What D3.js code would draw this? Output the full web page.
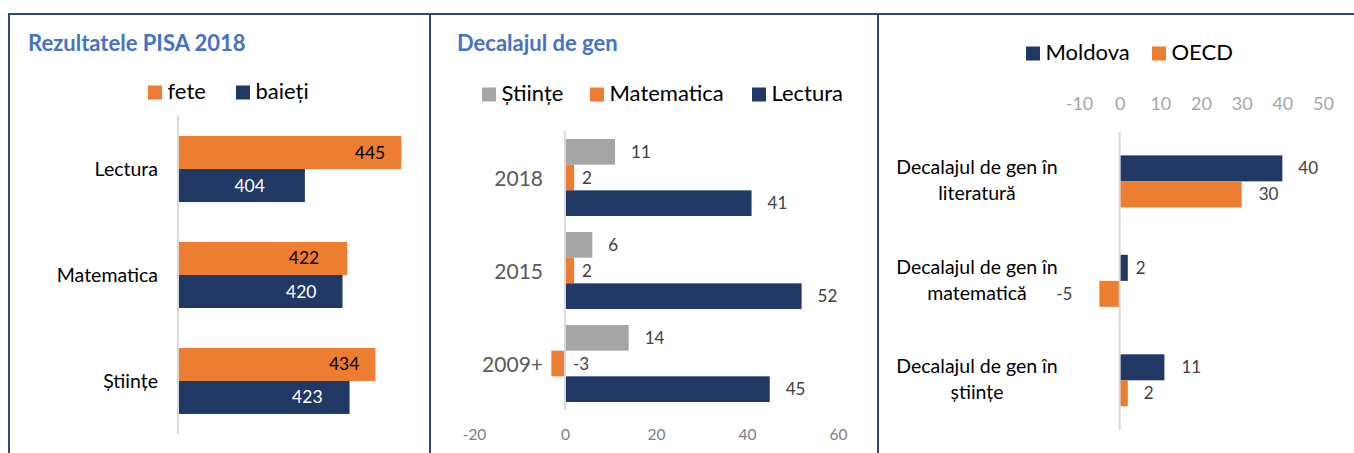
<!DOCTYPE html>
<html>
<head>
<meta charset="utf-8">
<script src="https://cdn.jsdelivr.net/npm/d3@7"></script>
<style>
  body { margin: 0; background: #fff; }
  svg { display: block; font-family: Lato, "Open Sans", sans-serif; }
</style>
</head>
<body>
<svg width="1354" height="453"></svg>
<script>
// panel 1 - PISA 2018 scores
const subjects = ["Lectura", "Matematica", "Științe"];
const sexes = ["fete", "baieți"];
const girls = [445, 422, 434];
const boys = [404, 420, 423];

// panel 2 - gender gap by year
const years = ["2018", "2015", "2009+"];
const gapSeries = ["Științe", "Matematica", "Lectura"];
const gapStiinte = [11, 6, 14];
const gapMatematica = [2, 2, -3];
const gapLectura = [41, 52, 45];
const gapTicks = [-20, 0, 20, 40, 60];

// panel 3 - Moldova vs OECD
const gapTopics = [
  ["Decalajul de gen în", "literatură"],
  ["Decalajul de gen în", "matematică"],
  ["Decalajul de gen în", "științe"],
];
const regions = ["Moldova", "OECD"];
const moldova = [40, 2, 11];
const oecd = [30, -5, 2];
const regionTicks = [-10, 0, 10, 20, 30, 40, 50];

const NAVY = "#203864", ORANGE = "#ed7d31", GREY = "#a5a5a5";
const AXIS = "#d9d9d9", TITLE = "#4472c4", BORDER = "#2e4a7d";

const svg = d3.select("svg");

// frame lines
svg.append("path")
  .attr("d", "M8,14H1354M9,14V453M430,14V453M878,14V453")
  .attr("fill", "none")
  .attr("stroke", BORDER)
  .attr("stroke-width", 2);

function legend(items, xs, y) {
  items.forEach((d, i) => {
    svg.append("rect").attr("x", xs[i]).attr("y", y - 13.5).attr("width", 14).attr("height", 14).attr("fill", d.color);
    svg.append("text").attr("x", xs[i] + 19.5).attr("y", y)
      .attr("font-size", 22).attr("fill", "#000").text(d.name);
  });
}

function title(x, txt) {
  svg.append("text").attr("x", x).attr("y", 51).attr("font-size", 22).attr("font-weight", "bold")
    .attr("fill", TITLE).text(txt);
}

// ---------------- panel 1 ----------------
title(28, "Rezultatele PISA 2018");
legend([{ name: sexes[0], color: ORANGE }, { name: sexes[1], color: NAVY }], [148, 236], 99);

const x1 = d3.scaleLinear().domain([350, 450]).range([178, 413]);
const y1 = d3.scaleBand().domain(subjects).range([116, 434]).paddingInner(0.377).paddingOuter(0.189);
const s1 = d3.scaleBand().domain(sexes).range([0, y1.bandwidth()]);
const p1 = subjects.map((s, i) => ({ cat: s, vals: [girls[i], boys[i]] }));
const nudge1 = [[16, 40], [28, 26], [16, 27]];

p1.forEach((row, i) => {
  row.vals.forEach((v, j) => {
    const y = y1(row.cat) + s1(sexes[j]);
    svg.append("rect").attr("x", x1(350)).attr("y", y)
      .attr("width", x1(v) - x1(350)).attr("height", s1.bandwidth())
      .attr("fill", j === 0 ? ORANGE : NAVY);
    svg.append("text").attr("x", x1(v) - nudge1[i][j]).attr("y", y + s1.bandwidth() / 2 + 6)
      .attr("text-anchor", "end").attr("font-size", 17.5)
      .attr("fill", j === 0 ? "#000" : "#fff").text(v);
  });
  svg.append("text").attr("x", 158).attr("y", y1(row.cat) + y1.bandwidth() / 2 + 7)
    .attr("text-anchor", "end").attr("font-size", 19.5).attr("fill", "#000").text(row.cat);
});
svg.append("line").attr("x1", x1(350)).attr("x2", x1(350)).attr("y1", 116).attr("y2", 434)
  .attr("stroke", AXIS).attr("stroke-width", 2);

// ---------------- panel 2 ----------------
title(457, "Decalajul de gen");
legend([{ name: gapSeries[0], color: GREY }, { name: gapSeries[1], color: ORANGE }, { name: gapSeries[2], color: NAVY }], [482, 590, 752], 101);

const x2 = d3.scaleLinear().domain([-20, 60]).range([474, 838]);
const y2 = d3.scaleBand().domain(years).range([131, 410]).paddingInner(0.172).paddingOuter(0.086);
const s2 = d3.scaleBand().domain(gapSeries).range([0, y2.bandwidth()]);
const gapCols = [GREY, ORANGE, NAVY];
const gapGap = [16, 8, 16];
const p2 = years.map((yr, i) => ({ cat: yr, vals: [gapStiinte[i], gapMatematica[i], gapLectura[i]] }));

p2.forEach(row => {
  row.vals.forEach((v, j) => {
    const y = y2(row.cat) + s2(gapSeries[j]);
    svg.append("rect").attr("x", Math.min(x2(0), x2(v))).attr("y", y)
      .attr("width", Math.abs(x2(v) - x2(0))).attr("height", s2.bandwidth())
      .attr("fill", gapCols[j]);
    svg.append("text").attr("x", x2(Math.max(v, 0)) + gapGap[j]).attr("y", y + s2.bandwidth() / 2 + 6)
      .attr("font-size", 17).attr("fill", "#404040").text(v);
  });
  svg.append("text").attr("x", 543).attr("y", y2(row.cat) + y2.bandwidth() / 2 + 8)
    .attr("text-anchor", "end").attr("font-size", 21).attr("fill", "#595959").text(row.cat);
});
svg.append("line").attr("x1", x2(0)).attr("x2", x2(0)).attr("y1", 131).attr("y2", 410)
  .attr("stroke", AXIS).attr("stroke-width", 2);

const ax2 = svg.append("g").attr("transform", "translate(0,429)")
  .call(d3.axisBottom(x2).tickValues(gapTicks).tickFormat(d => String(d)).tickSize(0).tickPadding(0));
ax2.select(".domain").remove();
ax2.selectAll("text").attr("font-size", 15.5).attr("fill", "#808080").attr("font-family", "Lato, sans-serif");

// ---------------- panel 3 ----------------
legend([{ name: regions[0], color: NAVY }, { name: regions[1], color: ORANGE }], [1026, 1152], 60);

const x3 = d3.scaleLinear().domain([-10, 50]).range([1079, 1323]);
const y3 = d3.scaleBand().domain(gapTopics.map(d => d.join(" "))).range([131.7, 430]).paddingInner(0.477).paddingOuter(0.238);
const s3 = d3.scaleBand().domain(regions).range([0, y3.bandwidth()]);
const nudge3 = [[16, 17], [8, 27], [17, 16]];

gapTopics.forEach((lines, i) => {
  const key = lines.join(" ");
  [moldova[i], oecd[i]].forEach((v, j) => {
    const y = y3(key) + s3(regions[j]);
    svg.append("rect").attr("x", Math.min(x3(0), x3(v))).attr("y", y)
      .attr("width", Math.abs(x3(v) - x3(0))).attr("height", s3.bandwidth())
      .attr("fill", j === 0 ? NAVY : ORANGE);
    svg.append("text")
      .attr("x", v >= 0 ? x3(v) + nudge3[i][j] : x3(v) - nudge3[i][j])
      .attr("text-anchor", v >= 0 ? "start" : "end")
      .attr("y", y + s3.bandwidth() / 2 + 6)
      .attr("font-size", 17).attr("fill", "#404040").text(v);
  });
  const cy = y3(key) + y3.bandwidth() / 2;
  svg.append("text").attr("x", 977).attr("y", cy - 7)
    .attr("text-anchor", "middle").attr("font-size", 19.5).attr("fill", "#000").text(lines[0]);
  svg.append("text").attr("x", 977).attr("y", cy + 19)
    .attr("text-anchor", "middle").attr("font-size", 19.5).attr("fill", "#000").text(lines[1]);
});
svg.append("line").attr("x1", x3(0)).attr("x2", x3(0)).attr("y1", 131.7).attr("y2", 430)
  .attr("stroke", AXIS).attr("stroke-width", 2);

const ax3 = svg.append("g").attr("transform", "translate(0,110)")
  .call(d3.axisTop(x3).tickValues(regionTicks).tickFormat(d => String(d)).tickSize(0).tickPadding(0));
ax3.select(".domain").remove();
ax3.selectAll("text").attr("font-size", 18).attr("fill", "#a6a6a6").attr("font-family", "Lato, sans-serif");
</script>
</body>
</html>
